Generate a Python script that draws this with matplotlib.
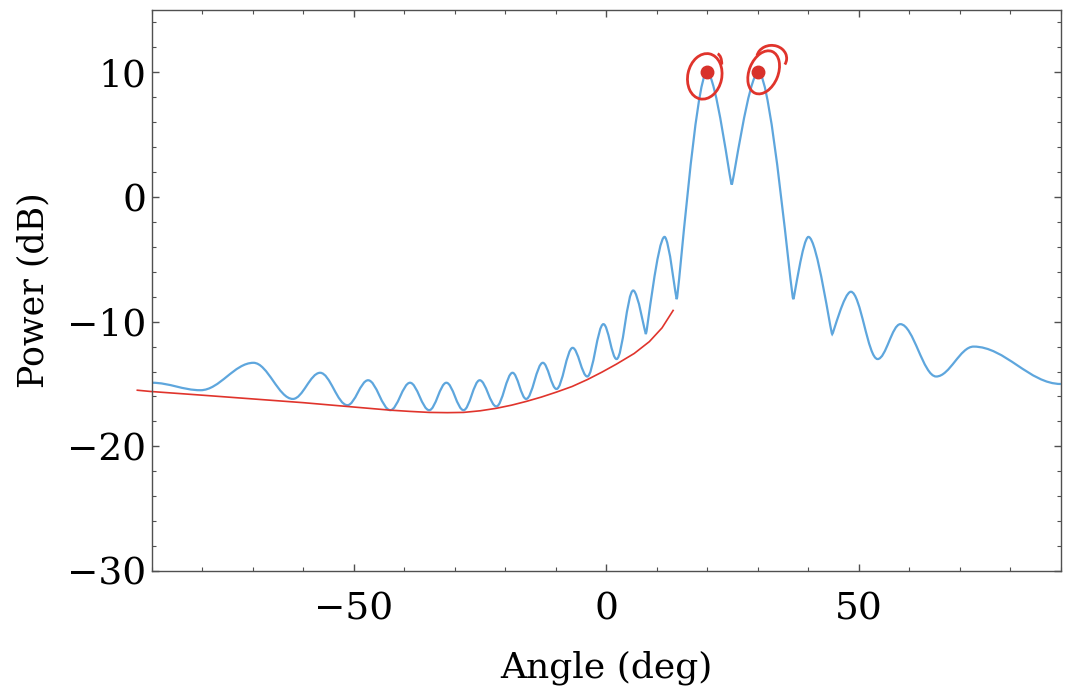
#!/usr/bin/env python3

import numpy as np
import matplotlib
matplotlib.use('Agg')
from matplotlib import pyplot as plt
from matplotlib import transforms
from matplotlib.path import Path
from matplotlib.patches import PathPatch, Ellipse, Arc
from matplotlib.ticker import MultipleLocator

# beam pattern: turning points (deg, dB)
angle_pts = [-90, -80.4, -69.9, -62.1, -56.7, -51.3, -47.2, -42.8, -38.9, -35.1,
             -31.7, -28.3, -25.1, -21.8, -18.6, -15.9, -12.6, -9.9, -6.7, -3.8,
             -0.6, 2.0, 5.3, 7.8, 11.5, 13.9, 19.9, 24.8, 30.1, 37.0,
             40.0, 44.7, 48.4, 53.7, 58.2, 65.3, 72.7, 90]
power_pts = [-14.9, -15.5, -13.3, -16.2, -14.1, -16.7, -14.7, -17.1, -14.9, -17.1,
             -14.9, -17.1, -14.7, -16.8, -14.1, -16.2, -13.3, -15.4, -12.1, -14.4,
             -10.2, -13.0, -7.5, -11.0, -3.2, -8.2, 10.0, 1.0, 10.0, -8.2,
             -3.2, -11.0, -7.6, -13.0, -10.2, -14.4, -12.0, -15.0]
# nulls that come to a sharp point
null_angles = [7.8, 13.9, 24.8, 37.0, 44.7]

# marked source directions
peak_angles = [20, 30]
peak_power = [10, 10]

# hand drawn envelope under the left sidelobes
env_angle = [-92.9, -90.3, -80.0, -70.0, -60.0, -50.0, -42.8, -38.9, -35.1, -31.5,
             -28.3, -25.0, -21.8, -18.8, -15.9, -12.9, -9.9, -6.8, -3.8, -0.9,
             2.0, 5.5, 8.5, 11.0, 13.2]
env_power = [-15.5, -15.6, -15.9, -16.2, -16.5, -16.85, -17.1, -17.2, -17.28, -17.3,
             -17.28, -17.15, -16.95, -16.7, -16.4, -16.05, -15.65, -15.2, -14.65, -14.05,
             -13.4, -12.55, -11.6, -10.5, -9.1]

blue = '#5ea6dd'
red = '#e0342c'


def pattern_path(xs, ys, nulls):
    # cubic segments between turning points, flat tangents at the peaks
    verts = [(xs[0], ys[0])]
    codes = [Path.MOVETO]
    for i in range(len(xs) - 1):
        x0, y0, x1, y1 = xs[i], ys[i], xs[i + 1], ys[i + 1]
        dx = x1 - x0
        a0 = 0.06 if x0 in nulls else 0.36
        a1 = 0.06 if x1 in nulls else 0.36
        verts += [(x0 + a0 * dx, y0), (x1 - a1 * dx, y1), (x1, y1)]
        codes += [Path.CURVE4] * 3
    return Path(verts, codes)


fig = plt.figure(figsize=(10.65, 6.87), dpi=100)
ax = fig.add_axes([0.1427, 0.1689, 0.8535, 0.8165])

ax.add_patch(PathPatch(pattern_path(angle_pts, power_pts, null_angles),
                       fill=False, edgecolor=blue, lw=1.6))

ax.plot(env_angle, env_power, color=red, lw=1.2, clip_on=False)
ax.plot(peak_angles, peak_power, 'o', color='#d8312b', ms=9, zorder=5)

# pen circles around the two peaks, sized in inches around the dots
for k, (px, py) in enumerate(zip(peak_angles, peak_power)):
    trans = fig.dpi_scale_trans + transforms.ScaledTranslation(px, py, ax.transData)
    if k == 0:
        ax.add_patch(Ellipse((-0.027, -0.04), 0.34, 0.46, angle=-12, transform=trans,
                             fill=False, ec=red, lw=2, clip_on=False))
        ax.add_patch(Arc((0.093, 0.087), 0.10, 0.20, theta1=-10, theta2=85,
                         transform=trans, ec=red, lw=2, clip_on=False))
    else:
        ax.add_patch(Ellipse((0.057, 0.0), 0.29, 0.45, angle=-22, transform=trans,
                             fill=False, ec=red, lw=2, clip_on=False))
        ax.add_patch(Arc((0.137, 0.14), 0.30, 0.26, theta1=-25, theta2=170,
                         transform=trans, ec=red, lw=2, clip_on=False))

ax.set_xlim(-90, 90)
ax.set_ylim(-30, 15)
ax.xaxis.set_major_locator(MultipleLocator(50))
ax.xaxis.set_minor_locator(MultipleLocator(10))
ax.yaxis.set_major_locator(MultipleLocator(10))
ax.yaxis.set_minor_locator(MultipleLocator(2))

for spine in ax.spines.values():
    spine.set_color('#505050')
    spine.set_linewidth(1.0)
ax.tick_params(which='both', direction='in', top=True, right=True, color='#505050')
ax.tick_params(which='major', length=5, width=1)
ax.tick_params(which='minor', length=3, width=0.8)
ax.tick_params(axis='x', pad=15)
ax.tick_params(axis='y', pad=4)
for lab in ax.get_xticklabels() + ax.get_yticklabels():
    lab.set_fontfamily('DejaVu Serif')
    lab.set_fontsize(27)

ax.set_xlabel('Angle (deg)', family='DejaVu Serif', fontsize=26, labelpad=16)
ax.set_ylabel('Power (dB)', family='DejaVu Serif', fontsize=25, labelpad=12)

fig.savefig('out.png', dpi=100)
